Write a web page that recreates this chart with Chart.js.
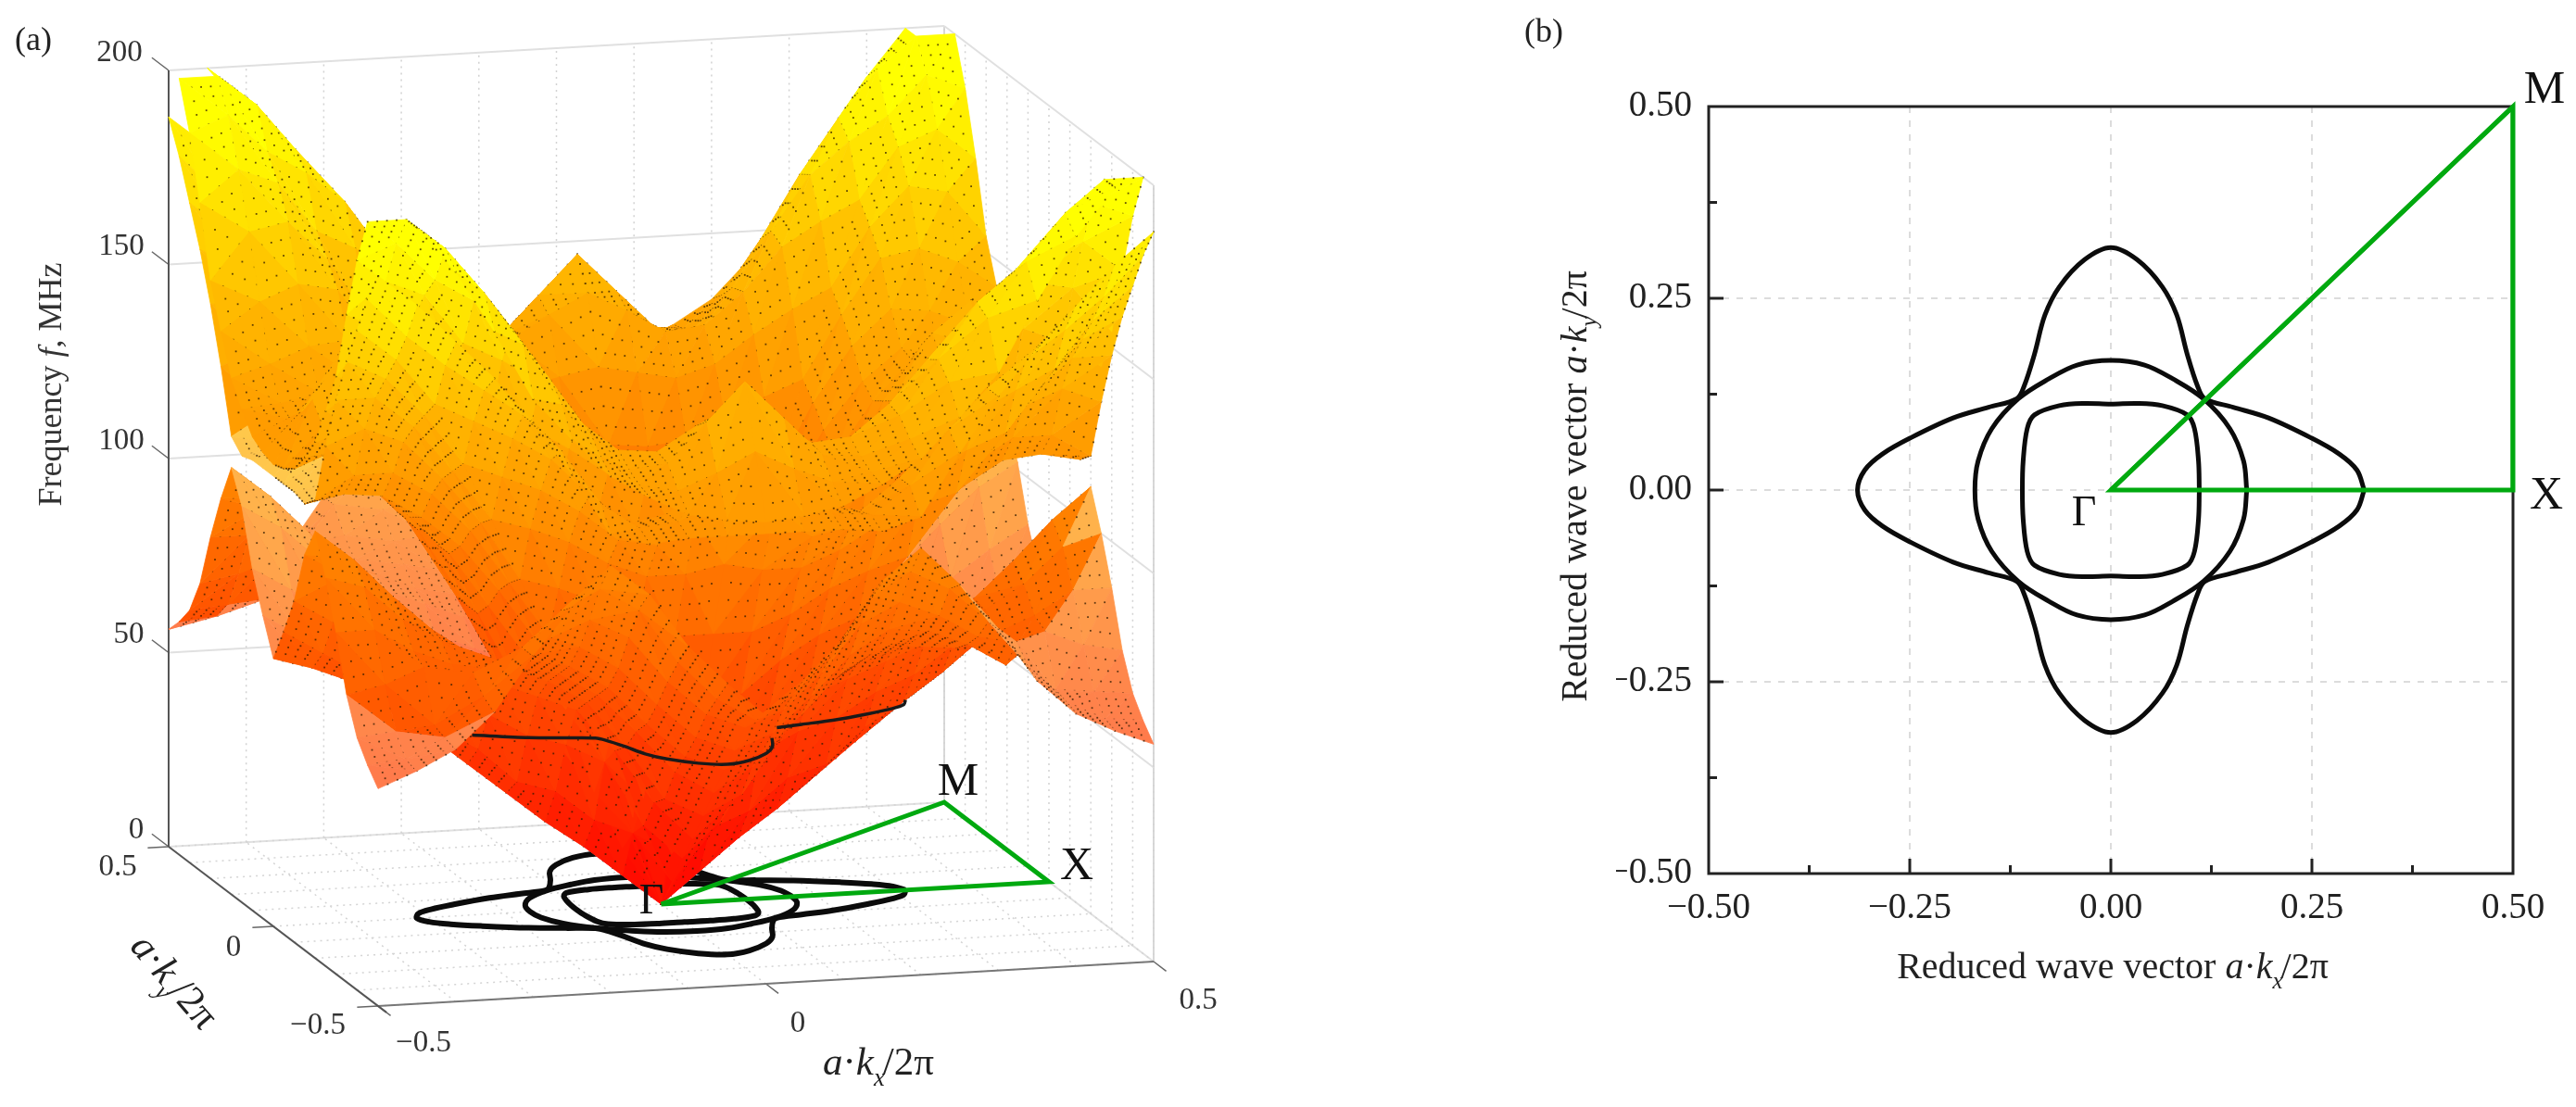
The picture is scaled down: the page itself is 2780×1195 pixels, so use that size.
<!DOCTYPE html>
<html><head><meta charset="utf-8">
<style>html,body{margin:0;padding:0;background:#fff;width:2780px;height:1195px;overflow:hidden}
canvas{position:absolute;top:0;filter:blur(.5px)}#a{left:0}#b{left:1400px}</style>
<script src="https://cdn.jsdelivr.net/npm/chart.js@4"></script>
</head><body><canvas id="a" width="1400" height="1195"></canvas><canvas id="b" width="1380" height="1195"></canvas>
<script>
// ---------- data ----------
// first-quadrant isofrequency contours (k in units of 2pi/a)
const crossX=[.315,.306,.284,.249,.196,.152,.117,.108,.095,.082,.064,.033,0];
const crossY=[0,.026,.047,.068,.094,.108,.119,.135,.177,.228,.265,.30,.316];
const ringX=[.169,.165,.148,.115,.077,.042,0];
const ringY=[0,.038,.08,.119,.145,.163,.169];
const squareX=[.110,.109,.104,.095,.064,.033,0];
const squareY=[0,.038,.08,.098,.110,.113,.112];
// visible parts of the contour drawn on the surface (f = contourF)
const contourF=49;
const contourAx=[-.26,-.196,-.152,-.117,-.108,-.095,-.082,-.064,-.033,0,.033,.064,.082,.095];
const contourAy=[-.06,-.094,-.108,-.119,-.135,-.177,-.228,-.265,-.30,-.316,-.30,-.265,-.228,-.177];
const contourBx=[.117,.152,.196,.249,.284,.306,.315];
const contourBy=[-.119,-.108,-.094,-.068,-.047,-.026,0];
// irreducible wedge of the three bands, f in MHz; row i: kx=.05 i, column j: ky=.05 j, j<=i
const band1=[[0],[8,21],[16,25,42],[23,33,47,58],[31,36,50,62,68],[39,45,56,66,72,74],[47,51,60,70,76,78,75],
 [54,58,67,77,83,82,78,72],[62,66,75,87,92,88,82,80,67],[66,72,82,96,102,97,88,76,66,61],[69,78,88,102,110,100,88,74,65,60,56]];
const band2=[[0],[15,21],[29,32,42],[44,46,56,62],[60,62,70,76,80],[80,80,84,90,94,97],[100,98,98,102,108,112,115],
 [120,114,108,110,118,124,128,132],[134,126,118,116,124,134,140,145,150],[126,122,118,117,124,138,148,155,162,170],
 [116,116,116,115,118,134,148,160,170,180,188]];
const band3=[[0],[22,25],[44,47,51],[66,67,72,76],[88,88,92,97,100],[108,107,108,113,118,122],[126,124,122,125,132,138,143],
 [143,138,132,133,141,152,158,163],[151,141,131,130,140,154,168,176,182],[135,130,126,128,136,150,166,180,192,200],
 [119,120,122,127,133,143,154,172,188,200,215]];
const fTicks=[0,50,100,150,200];
const fTop=200;
const kGrid=[-.5,-.4,-.3,-.2,-.1,0,.1,.2,.3,.4,.5];
const kAxisTicks=[-.5,0,.5];
const bMajor=[-.25,0,.25];
const bMinor=[-.375,-.125,.125,.375];
const pathGM=[[0,0],[.5,.5],[.5,0],[0,0]];

// ---------- helpers ----------
const F='"Liberation Serif"';
const GREEN='#00a90f';
const proj=(kx,ky,f)=>({x:713.5+837*kx-226*ky,y:976-48*kx-172*ky-4.19*f});
function closedCurve(xs,ys){const p=[];
 for(let i=0;i<xs.length;i++)p.push([xs[i],ys[i]]);
 for(let i=xs.length-2;i>=0;i--)p.push([-xs[i],ys[i]]);
 for(let i=1;i<xs.length;i++)p.push([-xs[i],-ys[i]]);
 for(let i=xs.length-2;i>=0;i--)p.push([xs[i],-ys[i]]);
 return p;}
const curves=[closedCurve(crossX,crossY),closedCurve(ringX,ringY),closedCurve(squareX,squareY)];
function rich(ctx,x,y,runs,opt={}){ // runs:[text,style,size,dy,gap]
 ctx.save();ctx.translate(x,y);ctx.rotate(opt.angle||0);ctx.textBaseline='alphabetic';ctx.fillStyle=opt.color||'#222';
 let w=0;for(const r of runs){ctx.font=`${r[1]||''} ${r[2]}px ${F}`;w+=ctx.measureText(r[0]).width+(r[4]||0);}
 let cx=-w/2;for(const r of runs){ctx.font=`${r[1]||''} ${r[2]}px ${F}`;ctx.fillText(r[0],cx,r[3]||0);cx+=ctx.measureText(r[0]).width+(r[4]||0);}
 ctx.restore();}
function vecRuns(sub,s){return [['a','italic',s],['·','',s],['k','italic',s],[sub,'italic',s*.62,s*.28,-2],['/2π','',s]];}
const label=(ctx,t,x,y,s,c)=>{ctx.save();ctx.font=`${s}px ${F}`;ctx.fillStyle=c||'#222';ctx.textAlign='center';ctx.textBaseline='middle';ctx.fillText(t,x,y);ctx.restore();};

// ---------- surface cells (two flat triangles per table cell) ----------
const fVal=(b,i,j)=>{const a=Math.abs(i),c=Math.abs(j);const hi=Math.max(a,c),lo=Math.min(a,c);return b[hi][lo];};
const green=f=>Math.round(Math.min(255,Math.max(0,f<=150?f*1.25:187.5+(f-150)*1.7)));
function col(f,light){const g=green(f);return light?`rgb(255,${Math.min(255,g+50)},${75})`:`rgb(255,${g},0)`;}
function lightBand1(kx,ky){
 if(ky>0)return true;
 const a=Math.abs(kx),b=-ky;
 if(kx>0)return a+b>.75||(a>.47&&b>.19);
 return a+b>.84;
}
const cells=[];
[band1,band2,band3].forEach((band,bi)=>{
 for(let i=-10;i<10;i++)for(let j=-10;j<10;j++){
  const idx=[[i,j],[i+1,j],[i+1,j+1],[i,j+1]];
  const raw=idx.map(q=>fVal(band,q[0],q[1]));
  if(raw.every(f=>f>=fTop))continue;
  let c=idx.map((q,n)=>({kx:q[0]*.05,ky:q[1]*.05,f:Math.min(fTop,raw[n])}));
  const Fx=((c[1].f+c[2].f)-(c[0].f+c[3].f))/2/.05,Fy=((c[2].f+c[3].f)-(c[0].f+c[1].f))/2/.05;
  const top=.27*Fx+Fy+44.2>0;
  const mx=(i+.5)*.05,my=(j+.5)*.05;
  const radial=(i+.5)*(j+.5)<0;
  const tangential=bi===0&&my<0&&Math.abs(mx)+Math.abs(my)>.6;
  if(radial!==tangential)c=[c[1],c[2],c[3],c[0]];
  [[c[0],c[1],c[2],1],[c[0],c[2],c[3],0]].forEach(t=>{
   const tri=t.slice(0,3);
   const m=tri.reduce((a,p)=>({kx:a.kx+p.kx/3,ky:a.ky+p.ky/3,f:a.f+p.f/3}),{kx:0,ky:0,f:0});
   const light=(bi===0&&lightBand1(m.kx,m.ky)&&(top||m.ky<0))||(bi===1&&top&&Math.abs(mx)>.38&&Math.abs(my)<.2);
   cells.push({c:tri,lower:t[3],light,depth:.27*m.kx+m.ky-.0011*m.f,band:bi});
  });
 }});
cells.sort((a,b)=>a.depth-b.depth); // nearest first: Chart.js paints the first dataset last
function paint(chart,cell){
 if(cell.grad)return cell.grad;
 const X=chart.scales.x,Y=chart.scales.y;
 const P=cell.c.map(p=>{const q=proj(p.kx,p.ky,p.f);return {u:X.getPixelForValue(q.x),v:Y.getPixelForValue(q.y),f:p.f};});
 const e1=[P[1].u-P[0].u,P[1].v-P[0].v,P[1].f-P[0].f],e2=[P[2].u-P[0].u,P[2].v-P[0].v,P[2].f-P[0].f];
 const det=e1[0]*e2[1]-e1[1]*e2[0];
 const fs=P.map(p=>p.f),lo=Math.min(...fs),hi=Math.max(...fs),fc=(fs[0]+fs[1]+fs[2])/3;
 let res=col(fc,cell.light);
 if(Math.abs(det)>8&&hi-lo>.2){
  const a=(e1[2]*e2[1]-e1[1]*e2[2])/det,b=(e1[0]*e2[2]-e1[2]*e2[0])/det,n=a*a+b*b;
  if(n>1e-7){const uc=P[0].u,vc=P[0].v,f0=P[0].f;
   const g=chart.ctx.createLinearGradient(uc+(lo-f0)*a/n,vc+(lo-f0)*b/n,uc+(hi-f0)*a/n,vc+(hi-f0)*b/n);
   const steps=4;for(let s=0;s<=steps;s++)g.addColorStop(s/steps,col(lo+(hi-lo)*s/steps,cell.light));res=g;}
 }
 cell.grad=res;return res;}

// ---------- chart (a) ----------
const line=(pts,o)=>Object.assign({data:pts,showLine:true,pointRadius:0,fill:false,borderWidth:2,borderColor:'#ddd',tension:0},o);
const p3=(a,b,c)=>proj(a,b,c);
const ds=[];
ds.push(line(pathGM.map(p=>p3(p[0],p[1],0)),{borderColor:GREEN,borderWidth:5}));
ds.push(line(contourAx.map((x,i)=>p3(x,contourAy[i],contourF)),{borderColor:'#1a1a1a',borderWidth:3.5,tension:.3}));
ds.push(line(contourBx.map((x,i)=>p3(x,contourBy[i],contourF)),{borderColor:'#1a1a1a',borderWidth:3.5,tension:.3}));
cells.forEach(cell=>{const pts=cell.c.concat([cell.c[0]]).map(p=>p3(p.kx,p.ky,p.f));
 ds.push(line(pts,{cell,fill:'shape',borderWidth:.8,backgroundColor:c=>paint(c.chart,cell),borderColor:c=>paint(c.chart,cell)}));});
curves.forEach(cv=>ds.push(line(cv.concat([cv[0]]).map(p=>p3(p[0],p[1],0)),{borderColor:'#0b0b0b',borderWidth:6,tension:.35})));
// axes
ds.push(line([p3(-.5,.5,0),p3(-.5,.5,fTop)],{borderColor:'#555',borderWidth:2}));
ds.push(line([p3(-.5,.5,0),p3(-.5,-.54,0)],{borderColor:'#555',borderWidth:2}));
ds.push(line([p3(-.5,-.5,0),p3(.5,-.5,0)],{borderColor:'#777',borderWidth:2}));
kAxisTicks.forEach(k=>{
 ds.push(line([p3(-.5,k,0),p3(-.527,k,0)],{borderColor:'#666',borderWidth:1.5}));
 ds.push(line([p3(k,-.5,0),p3(k,-.56,0)],{borderColor:'#666',borderWidth:1.5}));
});
// walls and floor
kGrid.forEach(k=>{
 ds.push(line([p3(k,-.5,0),p3(k,.5,0)],{borderColor:'#d4d4d4',borderWidth:1.5,borderDash:[2,5]}));
 ds.push(line([p3(-.5,k,0),p3(.5,k,0)],{borderColor:'#d4d4d4',borderWidth:1.5,borderDash:[2,5]}));
 ds.push(line([p3(k,.5,0),p3(k,.5,fTop)],{borderColor:'#d2d2d2',borderWidth:1.5,borderDash:[2,5]}));
 ds.push(line([p3(.5,k,0),p3(.5,k,fTop)],{borderColor:'#d2d2d2',borderWidth:1.5,borderDash:[2,5]}));
});
fTicks.forEach(f=>{
 ds.push(line([p3(-.5,.5,f),p3(.5,.5,f)],{borderColor:'#e0e0e0',borderWidth:2}));
 ds.push(line([p3(.5,.5,f),p3(.5,-.5,f)],{borderColor:'#e0e0e0',borderWidth:2}));
 ds.push(line([p3(-.5,.5,f),p3(-.5,.58,f)],{borderColor:'#666',borderWidth:1.5}));
});
ds.push(line([p3(.5,.5,0),p3(.5,.5,fTop)],{borderColor:'#d8d8d8',borderWidth:2}));
ds.push(line([p3(.5,-.5,0),p3(.5,-.5,fTop)],{borderColor:'#d8d8d8',borderWidth:2}));
const dotsPlugin={id:'dots',afterDatasetDraw(chart,args){
 const cell=chart.data.datasets[args.index].cell;if(!cell)return;
 const X=chart.scales.x,Y=chart.scales.y,ctx=chart.ctx,c=cell.c;
 ctx.save();ctx.fillStyle='rgba(45,25,0,.75)';
 for(let s=0;s<4;s++)for(let t=0;t<4;t++){const a=s/4,b=t/4;
  let w;
  if(cell.lower){if(a<b)continue;w=[1-a,a-b,b];}
  else{if(a>=b)continue;w=[1-b,a,b-a];}
  const kx=w[0]*c[0].kx+w[1]*c[1].kx+w[2]*c[2].kx,ky=w[0]*c[0].ky+w[1]*c[1].ky+w[2]*c[2].ky,f=w[0]*c[0].f+w[1]*c[1].f+w[2]*c[2].f;
  const q=proj(kx,ky,f);ctx.fillRect(X.getPixelForValue(q.x)-.9,Y.getPixelForValue(q.y)-.9,1.8,1.8);}
 ctx.restore();}};
const textA={id:'textA',afterDatasetsDraw(chart){const ctx=chart.ctx;
 [['200',129,57],['150',131,266],['100',131,476],['50',139,685],['0',147,896],['0.5',127,936],['0',252,1023],['−0.5',343,1107],['−0.5',457,1126],['0',861,1105],['0.5',1293,1080]]
  .forEach(t=>label(ctx,t[0],t[1],t[2],33,'#333'));
 label(ctx,'(a)',36,45,36,'#222');
 label(ctx,'M',1034,845,50,'#111');label(ctx,'X',1162,936,50,'#111');label(ctx,'Γ',703,974,46,'#111');
 rich(ctx,66,415,[['Frequency ','',36],['f','italic',36],[', MHz','',36]],{angle:-Math.PI/2,color:'#333'});
 rich(ctx,948,1160,vecRuns('x',43),{color:'#222'});
 rich(ctx,178,1068,vecRuns('y',43),{angle:.86,color:'#222'});
}};
const baseOpts=(extra)=>Object.assign({responsive:false,animation:false,events:[],parsing:false,
 plugins:{legend:{display:false},tooltip:{enabled:false}},elements:{point:{radius:0}}},extra);
new Chart(document.getElementById('a'),{type:'scatter',data:{datasets:ds},plugins:[dotsPlugin,textA],
 options:baseOpts({layout:{padding:0},scales:{
  x:{type:'linear',display:false,min:0,max:1400},y:{type:'linear',display:false,min:0,max:1195,reverse:true}}})});

// ---------- chart (b) ----------
const fmt=v=>v.toFixed(2).replace('-','−');
const gridCfg={drawTicks:false,lineWidth:2,color:c=>Math.abs(Math.abs(c.tick.value)-.5)<1e-6?'transparent':'#dcdcdc'};
const borderCfg={display:false,dash:[7,8]};
const textB={id:'textB',afterDatasetsDraw(chart){const ctx=chart.ctx,X=chart.scales.x,Y=chart.scales.y;
 const a=chart.chartArea;ctx.save();ctx.strokeStyle='#222';ctx.lineWidth=3;
 ctx.strokeRect(a.left,a.top,a.right-a.left,a.bottom-a.top);
 const tick=(x0,y0,x1,y1)=>{ctx.beginPath();ctx.moveTo(x0,y0);ctx.lineTo(x1,y1);ctx.stroke();};
 bMajor.forEach(v=>{tick(a.left,Y.getPixelForValue(v),a.left+16,Y.getPixelForValue(v));tick(X.getPixelForValue(v),a.bottom,X.getPixelForValue(v),a.bottom-16);});
 bMinor.forEach(v=>{tick(a.left,Y.getPixelForValue(v),a.left+9,Y.getPixelForValue(v));tick(X.getPixelForValue(v),a.bottom,X.getPixelForValue(v),a.bottom-9);});
 ctx.restore();
 // green path redrawn above the frame
 ctx.save();ctx.strokeStyle=GREEN;ctx.lineWidth=5;ctx.lineJoin='miter';ctx.beginPath();
 pathGM.forEach((p,i)=>{const x=X.getPixelForValue(p[0]),y=Y.getPixelForValue(p[1]);i?ctx.lineTo(x,y):ctx.moveTo(x,y);});ctx.closePath();ctx.stroke();ctx.restore();
 label(ctx,'(b)',266,36,36,'#222');
 label(ctx,'M',1346,98,50,'#111');label(ctx,'X',1348,536,50,'#111');label(ctx,'Γ',849,555,46,'#111');
 rich(ctx,880,1056,[['Reduced wave vector ','',40]].concat(vecRuns('x',40)),{color:'#222'});
 rich(ctx,312,525,[['Reduced wave vector ','',40]].concat(vecRuns('y',40)),{angle:-Math.PI/2,color:'#222'});
}};
const dsB=[line(pathGM.map(p=>({x:p[0],y:p[1]})),{borderColor:GREEN,borderWidth:5})]
 .concat(curves.map(cv=>line(cv.concat([cv[0]]).map(p=>({x:p[0],y:p[1]})),{borderColor:'#0b0b0b',borderWidth:5,tension:.35})));
new Chart(document.getElementById('b'),{type:'scatter',data:{datasets:dsB},plugins:[textB],
 options:baseOpts({layout:{padding:{left:344,right:68,top:115,bottom:192}},scales:{
  x:{type:'linear',min:-.5,max:.5,afterFit:s=>{s.height=60;},border:borderCfg,grid:gridCfg,
     ticks:{stepSize:.25,callback:fmt,maxRotation:0,padding:14,font:{family:'Liberation Serif',size:39},color:'#222'}},
  y:{type:'linear',min:-.5,max:.5,afterFit:s=>{s.width=100;},border:borderCfg,grid:gridCfg,
     ticks:{stepSize:.25,callback:fmt,padding:18,font:{family:'Liberation Serif',size:39},color:'#222'}}}})});
</script></body></html>
